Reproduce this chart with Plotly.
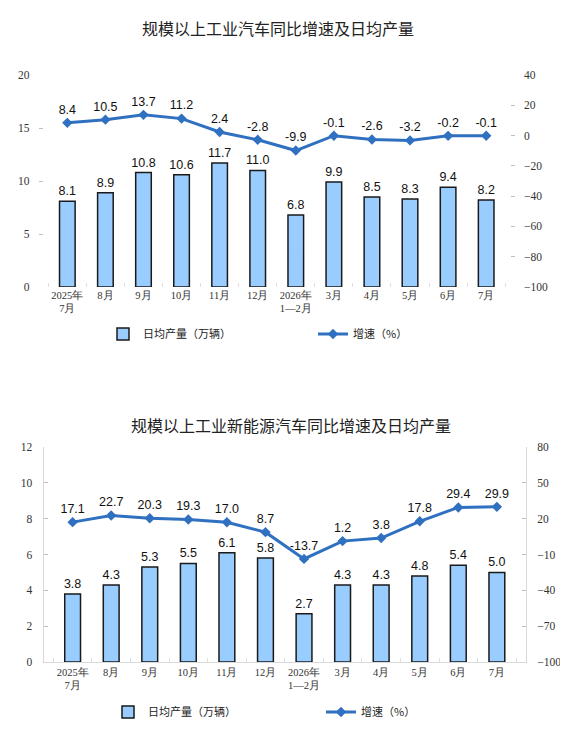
import plotly.graph_objects as go

# category labels shared by both panels
months = ['2025年<br>7月', '8月', '9月', '10月', '11月', '12月',
          '2026年<br>1—2月', '3月', '4月', '5月', '6月', '7月']

# all vehicles
auto_daily = [8.1, 8.9, 10.8, 10.6, 11.7, 11.0, 6.8, 9.9, 8.5, 8.3, 9.4, 8.2]
auto_growth = [8.4, 10.5, 13.7, 11.2, 2.4, -2.8, -9.9, -0.1, -2.6, -3.2, -0.2, -0.1]

# new energy vehicles
nev_daily = [3.8, 4.3, 5.3, 5.5, 6.1, 5.8, 2.7, 4.3, 4.3, 4.8, 5.4, 5.0]
nev_growth = [17.1, 22.7, 20.3, 19.3, 17.0, 8.7, -13.7, 1.2, 3.8, 17.8, 29.4, 29.9]

BAR_FILL = '#99CCFF'
LINE_BLUE = '#3070C0'
SERIF = '"Liberation Serif", "Times New Roman", serif'
SANS = '"Liberation Sans", Arial, sans-serif'
CJK = '"Noto Sans CJK SC", sans-serif'

# page is 568x731; the html body adds an 8px margin round the figure
PAD = 8
W, H = 568 - 2 * PAD, 731 - 2 * PAD


def px_x(v):
    # page pixel -> paper fraction
    return (v - PAD) / W


def px_y(v):
    return 1 - (v - PAD) / H


def bar_trace(vals, xa, ya, lg):
    return go.Bar(
        x=months, y=vals, name='日均产量（万辆）',
        xaxis=xa, yaxis=ya, width=0.41,
        marker=dict(color=BAR_FILL, line=dict(color='#1a1a1a', width=1.5)),
        text=[f'{v:.1f}' for v in vals], textposition='outside',
        constraintext='none',
        textfont=dict(family=SANS, size=12.5, color='#111'),
        cliponaxis=False, legend=lg,
    )


def line_trace(vals, xa, ya, lg):
    return go.Scatter(
        x=months, y=vals, name='增速（%）',
        xaxis=xa, yaxis=ya, mode='lines+markers+text',
        line=dict(color=LINE_BLUE, width=3),
        marker=dict(symbol='diamond', size=8, color=LINE_BLUE),
        text=[f'{v:.1f}' for v in vals], textposition='top center',
        textfont=dict(family=SANS, size=12.5, color='#111'),
        cliponaxis=False, legend=lg,
    )


fig = go.Figure()
fig.add_trace(bar_trace(auto_daily, 'x', 'y', 'legend'))
fig.add_trace(line_trace(auto_growth, 'x', 'y2', 'legend'))
fig.add_trace(bar_trace(nev_daily, 'x2', 'y3', 'legend2'))
fig.add_trace(line_trace(nev_growth, 'x2', 'y4', 'legend2'))

numfont = dict(family=SERIF, size=11.5, color='#333')
catfont = dict(family=SERIF, size=10.5, color='#333')
top_dom_x = [px_x(38.5), px_x(515)]
top_dom_y = [px_y(287), px_y(75)]
bot_dom_x = [px_x(43.5), px_x(526)]
bot_dom_y = [px_y(662), px_y(447)]

legend_common = dict(
    orientation='h', xanchor='left', yanchor='middle',
    font=dict(family=CJK, size=11, color='#222'),
    entrywidthmode='pixels', itemwidth=30,
    bgcolor='rgba(0,0,0,0)', traceorder='normal',
)

y_common = dict(showgrid=False, zeroline=False, ticks='inside', ticklen=4,
                tickcolor='#bfbfbf', tickfont=numfont, automargin=False,
                ticklabelstandoff=8)
x_common = dict(type='category', showgrid=False, zeroline=False,
                ticks='inside', tickson='boundaries', ticklen=4,
                tickcolor='#e0e0e0', tickfont=catfont, tickangle=0,
                automargin=False)

fig.update_layout(
    width=W, height=H,
    margin=dict(l=0, r=0, t=0, b=0, autoexpand=False),
    paper_bgcolor='white', plot_bgcolor='white',
    xaxis=dict(domain=top_dom_x, anchor='y', showline=False, **x_common),
    yaxis=dict(domain=top_dom_y, anchor='x', range=[0, 20], dtick=5,
               showline=False, **y_common),
    yaxis2=dict(overlaying='y', side='right', anchor='x',
                range=[-100, 40], dtick=20, tick0=-100,
                showline=False, **y_common),
    xaxis2=dict(domain=bot_dom_x, anchor='y3', showline=True,
                linecolor='#d9d9d9', **x_common),
    yaxis3=dict(domain=bot_dom_y, anchor='x2', range=[0, 12], dtick=2,
                showline=True, linecolor='#d9d9d9', **y_common),
    yaxis4=dict(overlaying='y3', side='right', anchor='x2',
                range=[-100, 80], dtick=30, tick0=-100,
                showline=True, linecolor='#d9d9d9', **y_common),
    legend=dict(x=px_x(103), y=px_y(334), entrywidth=165, **legend_common),
    legend2=dict(x=px_x(108), y=px_y(712), entrywidth=168, **legend_common),
    annotations=[
        dict(text='规模以上工业汽车同比增速及日均产量', x=px_x(278), y=px_y(28),
             xref='paper', yref='paper', showarrow=False, yanchor='middle',
             font=dict(family=CJK, size=16, color='#222')),
        dict(text='规模以上工业新能源汽车同比增速及日均产量', x=px_x(291), y=px_y(425),
             xref='paper', yref='paper', showarrow=False, yanchor='middle',
             font=dict(family=CJK, size=16, color='#222')),
    ],
)

fig.write_html('out.html')
